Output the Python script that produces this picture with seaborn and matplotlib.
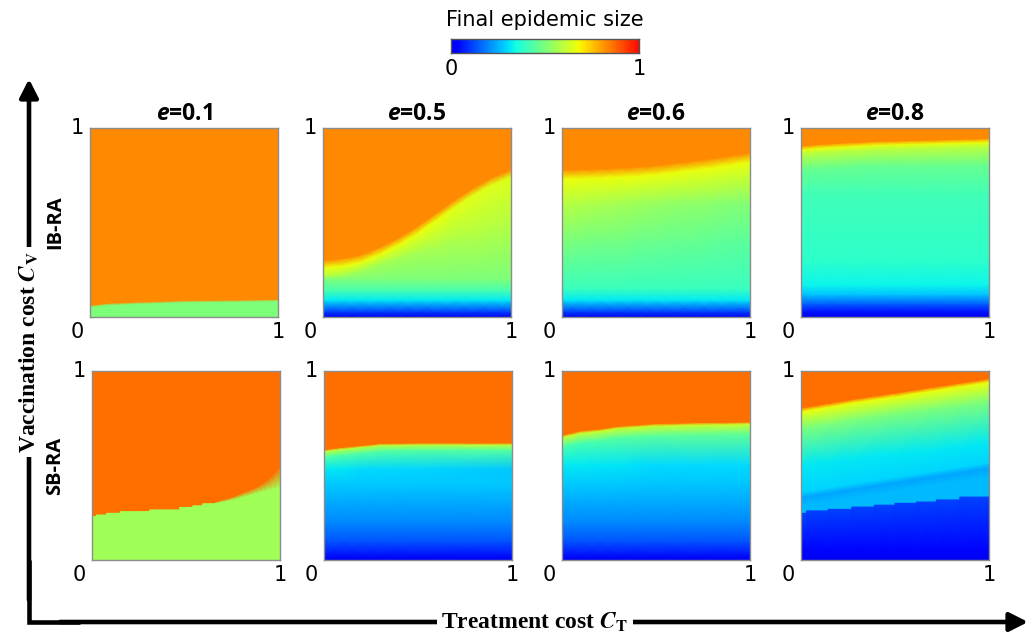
import numpy as np
import matplotlib
matplotlib.use("Agg")
import matplotlib.pyplot as plt
import seaborn as sns
from matplotlib.colors import ListedColormap

# ---------------- data ----------------
E_VALUES = ["0.1", "0.5", "0.6", "0.8"]
ROW_LABELS = ["IB-RA", "SB-RA"]
CBAR_LABELS = ["0", "1"]
CBAR_TITLE = "Final epidemic size"

# IB-RA, e=0.1
XA = [0.0, 0.1, 0.25, 0.5, 1.0]
YA = [[0.0, 0.0, 0.0, 0.0, 0.0],
      [0.053, 0.064, 0.070, 0.078, 0.084],
      [0.063, 0.074, 0.080, 0.088, 0.094],
      [1.0, 1.0, 1.0, 1.0, 1.0]]
VA = [[0.50, 0.50, 0.50, 0.50, 0.50],
      [0.50, 0.50, 0.50, 0.50, 0.50],
      [0.825, 0.825, 0.825, 0.825, 0.825],
      [0.825, 0.825, 0.825, 0.825, 0.825]]

# IB-RA, e=0.5
XB = [0.0, 0.1, 0.2, 0.3, 0.4, 0.5, 0.6, 0.7, 0.8, 0.9, 1.0]
YB = [[0.0, 0.0, 0.0, 0.0, 0.0, 0.0, 0.0, 0.0, 0.0, 0.0, 0.0],
      [0.03, 0.03, 0.03, 0.03, 0.03, 0.03, 0.03, 0.03, 0.03, 0.03, 0.03],
      [0.09, 0.09, 0.09, 0.09, 0.09, 0.09, 0.09, 0.09, 0.09, 0.09, 0.09],
      [0.14, 0.14, 0.14, 0.14, 0.14, 0.14, 0.14, 0.14, 0.14, 0.14, 0.14],
      [0.20, 0.20, 0.20, 0.20, 0.20, 0.20, 0.20, 0.20, 0.20, 0.20, 0.20],
      [0.22, 0.23, 0.25, 0.28, 0.31, 0.34, 0.37, 0.40, 0.43, 0.46, 0.48],
      [0.26, 0.27, 0.29, 0.33, 0.38, 0.44, 0.51, 0.58, 0.645, 0.70, 0.74],
      [0.30, 0.31, 0.33, 0.37, 0.42, 0.48, 0.55, 0.62, 0.685, 0.74, 0.78],
      [1.0, 1.0, 1.0, 1.0, 1.0, 1.0, 1.0, 1.0, 1.0, 1.0, 1.0]]
VB = [[0.0, 0.0, 0.0, 0.0, 0.0, 0.0, 0.0, 0.0, 0.0, 0.0, 0.0],
      [0.12, 0.12, 0.12, 0.12, 0.12, 0.12, 0.12, 0.12, 0.12, 0.12, 0.12],
      [0.32, 0.32, 0.32, 0.32, 0.32, 0.32, 0.32, 0.32, 0.32, 0.32, 0.32],
      [0.42, 0.42, 0.42, 0.42, 0.42, 0.42, 0.42, 0.42, 0.42, 0.42, 0.42],
      [0.50, 0.50, 0.50, 0.50, 0.50, 0.50, 0.50, 0.50, 0.50, 0.50, 0.50],
      [0.60, 0.59, 0.57, 0.56, 0.56, 0.56, 0.57, 0.57, 0.58, 0.58, 0.58],
      [0.667, 0.667, 0.667, 0.667, 0.667, 0.667, 0.665, 0.66, 0.655, 0.65, 0.65],
      [0.825, 0.825, 0.825, 0.825, 0.825, 0.825, 0.825, 0.825, 0.825, 0.825, 0.825],
      [0.825, 0.825, 0.825, 0.825, 0.825, 0.825, 0.825, 0.825, 0.825, 0.825, 0.825]]

# IB-RA, e=0.6
XC = [0.0, 0.1, 0.2, 0.3, 0.4, 0.5, 0.6, 0.7, 0.8, 0.9, 1.0]
YC = [[0.0, 0.0, 0.0, 0.0, 0.0, 0.0, 0.0, 0.0, 0.0, 0.0, 0.0],
      [0.03, 0.03, 0.03, 0.03, 0.03, 0.03, 0.03, 0.03, 0.03, 0.03, 0.03],
      [0.09, 0.09, 0.09, 0.09, 0.09, 0.09, 0.09, 0.09, 0.09, 0.09, 0.09],
      [0.15, 0.15, 0.15, 0.15, 0.15, 0.15, 0.15, 0.15, 0.15, 0.15, 0.15],
      [0.40, 0.40, 0.40, 0.40, 0.40, 0.40, 0.40, 0.40, 0.40, 0.40, 0.40],
      [0.60, 0.60, 0.60, 0.60, 0.60, 0.60, 0.60, 0.60, 0.60, 0.60, 0.60],
      [0.73, 0.732, 0.735, 0.74, 0.745, 0.753, 0.765, 0.777, 0.79, 0.805, 0.82],
      [0.78, 0.782, 0.785, 0.79, 0.795, 0.803, 0.815, 0.827, 0.84, 0.855, 0.87],
      [1.0, 1.0, 1.0, 1.0, 1.0, 1.0, 1.0, 1.0, 1.0, 1.0, 1.0]]
VC = [[0.0, 0.0, 0.0, 0.0, 0.0, 0.0, 0.0, 0.0, 0.0, 0.0, 0.0],
      [0.12, 0.12, 0.12, 0.12, 0.12, 0.12, 0.12, 0.12, 0.12, 0.12, 0.12],
      [0.32, 0.32, 0.32, 0.32, 0.32, 0.32, 0.32, 0.32, 0.32, 0.32, 0.32],
      [0.40, 0.40, 0.40, 0.40, 0.40, 0.40, 0.40, 0.40, 0.40, 0.40, 0.40],
      [0.50, 0.495, 0.49, 0.485, 0.48, 0.475, 0.47, 0.465, 0.46, 0.455, 0.45],
      [0.59, 0.58, 0.57, 0.56, 0.55, 0.54, 0.53, 0.525, 0.52, 0.515, 0.51],
      [0.667, 0.667, 0.667, 0.667, 0.667, 0.667, 0.667, 0.667, 0.667, 0.667, 0.667],
      [0.825, 0.825, 0.825, 0.825, 0.825, 0.825, 0.825, 0.825, 0.825, 0.825, 0.825],
      [0.825, 0.825, 0.825, 0.825, 0.825, 0.825, 0.825, 0.825, 0.825, 0.825, 0.825]]

# IB-RA, e=0.8
XD = [0.0, 0.1, 0.2, 0.4, 0.6, 0.8, 1.0]
YD = [[0.0, 0.0, 0.0, 0.0, 0.0, 0.0, 0.0],
      [0.03, 0.03, 0.03, 0.03, 0.03, 0.03, 0.03],
      [0.07, 0.07, 0.07, 0.07, 0.07, 0.07, 0.07],
      [0.12, 0.12, 0.12, 0.12, 0.12, 0.12, 0.12],
      [0.17, 0.17, 0.17, 0.17, 0.17, 0.17, 0.17],
      [0.30, 0.30, 0.30, 0.30, 0.30, 0.30, 0.30],
      [0.65, 0.65, 0.65, 0.65, 0.65, 0.65, 0.65],
      [0.78, 0.785, 0.79, 0.80, 0.80, 0.80, 0.80],
      [0.865, 0.874, 0.88, 0.89, 0.895, 0.90, 0.905],
      [0.885, 0.894, 0.90, 0.91, 0.915, 0.92, 0.925],
      [0.905, 0.914, 0.92, 0.93, 0.935, 0.94, 0.945],
      [1.0, 1.0, 1.0, 1.0, 1.0, 1.0, 1.0]]
VD = [[0.0, 0.0, 0.0, 0.0, 0.0, 0.0, 0.0],
      [0.06, 0.06, 0.06, 0.06, 0.06, 0.06, 0.06],
      [0.15, 0.15, 0.15, 0.15, 0.15, 0.15, 0.15],
      [0.27, 0.27, 0.27, 0.27, 0.27, 0.27, 0.27],
      [0.33, 0.33, 0.33, 0.33, 0.33, 0.33, 0.33],
      [0.38, 0.38, 0.38, 0.38, 0.38, 0.38, 0.38],
      [0.41, 0.41, 0.41, 0.41, 0.41, 0.41, 0.41],
      [0.47, 0.47, 0.47, 0.47, 0.47, 0.47, 0.47],
      [0.60, 0.60, 0.60, 0.60, 0.60, 0.60, 0.60],
      [0.667, 0.667, 0.667, 0.667, 0.667, 0.667, 0.667],
      [0.825, 0.825, 0.825, 0.825, 0.825, 0.825, 0.825],
      [0.825, 0.825, 0.825, 0.825, 0.825, 0.825, 0.825]]

# SB-RA, e=0.1 : smooth field ...
XE = [0.0, 0.023, 0.079, 0.15, 0.308, 0.467, 0.537, 0.59, 0.643,
      0.7, 0.725, 0.75, 0.775, 0.8, 0.825, 0.85, 0.875, 0.9, 0.925, 0.95, 0.975, 1.0]
YE = [[0.0, 0.0, 0.0, 0.0, 0.0, 0.0, 0.0, 0.0, 0.0,
       0.0, 0.0, 0.0, 0.0, 0.0, 0.0, 0.0, 0.0, 0.0, 0.0, 0.0, 0.0, 0.0],
      [0.225, 0.229, 0.238, 0.247, 0.256, 0.265, 0.278, 0.287, 0.298,
       0.310, 0.315, 0.320, 0.327, 0.335, 0.341, 0.348, 0.355, 0.362, 0.368, 0.374, 0.380, 0.385],
      [0.230, 0.234, 0.243, 0.252, 0.261, 0.270, 0.283, 0.292, 0.304,
       0.320, 0.327, 0.335, 0.345, 0.355, 0.365, 0.375, 0.387, 0.400, 0.418, 0.440, 0.467, 0.500],
      [1.0, 1.0, 1.0, 1.0, 1.0, 1.0, 1.0, 1.0, 1.0,
       1.0, 1.0, 1.0, 1.0, 1.0, 1.0, 1.0, 1.0, 1.0, 1.0, 1.0, 1.0, 1.0]]
VE = [[0.555, 0.555, 0.555, 0.555, 0.555, 0.555, 0.555, 0.555, 0.555,
       0.555, 0.555, 0.555, 0.555, 0.555, 0.555, 0.555, 0.555, 0.555, 0.555, 0.555, 0.555, 0.555],
      [0.555, 0.555, 0.555, 0.555, 0.555, 0.555, 0.555, 0.555, 0.555,
       0.555, 0.555, 0.555, 0.555, 0.555, 0.555, 0.555, 0.555, 0.555, 0.555, 0.555, 0.555, 0.555],
      [0.8625, 0.8625, 0.8625, 0.8625, 0.8625, 0.8625, 0.8625, 0.8625, 0.8625,
       0.8625, 0.8625, 0.8625, 0.8625, 0.8625, 0.8625, 0.8625, 0.8625, 0.8625, 0.8625, 0.8625, 0.8625, 0.8625],
      [0.8625, 0.8625, 0.8625, 0.8625, 0.8625, 0.8625, 0.8625, 0.8625, 0.8625,
       0.8625, 0.8625, 0.8625, 0.8625, 0.8625, 0.8625, 0.8625, 0.8625, 0.8625, 0.8625, 0.8625, 0.8625, 0.8625]]
# ... and the stepped edge of its low region
XE_STEP = [0.0, 0.023, 0.023, 0.079, 0.079, 0.15, 0.15, 0.308, 0.308,
           0.467, 0.467, 0.537, 0.537, 0.59, 0.59, 0.643]
YE_STEP = [[0.0, 0.0, 0.0, 0.0, 0.0, 0.0, 0.0, 0.0, 0.0, 0.0, 0.0, 0.0, 0.0, 0.0, 0.0, 0.0],
           [0.229, 0.229, 0.238, 0.238, 0.247, 0.247, 0.256, 0.256, 0.265,
            0.265, 0.278, 0.278, 0.287, 0.287, 0.298, 0.298]]
VE_STEP = [[0.555, 0.555, 0.555, 0.555, 0.555, 0.555, 0.555, 0.555, 0.555,
            0.555, 0.555, 0.555, 0.555, 0.555, 0.555, 0.555],
           [0.555, 0.555, 0.555, 0.555, 0.555, 0.555, 0.555, 0.555, 0.555,
            0.555, 0.555, 0.555, 0.555, 0.555, 0.555, 0.555]]

# SB-RA, e=0.5
XF = [0.0, 0.1, 0.2, 0.3, 0.5, 1.0]
YF = [[0.0, 0.0, 0.0, 0.0, 0.0, 0.0],
      [0.03, 0.03, 0.03, 0.03, 0.03, 0.03],
      [0.10, 0.10, 0.10, 0.10, 0.10, 0.10],
      [0.20, 0.20, 0.20, 0.20, 0.20, 0.20],
      [0.30, 0.30, 0.30, 0.30, 0.30, 0.30],
      [0.40, 0.40, 0.40, 0.40, 0.40, 0.40],
      [0.48, 0.48, 0.48, 0.48, 0.48, 0.48],
      [0.545, 0.557, 0.567, 0.577, 0.580, 0.580],
      [0.575, 0.587, 0.597, 0.607, 0.610, 0.610],
      [0.585, 0.597, 0.607, 0.617, 0.620, 0.620],
      [1.0, 1.0, 1.0, 1.0, 1.0, 1.0]]
VF = [[0.0, 0.0, 0.0, 0.0, 0.0, 0.0],
      [0.06, 0.06, 0.06, 0.06, 0.06, 0.06],
      [0.14, 0.14, 0.14, 0.14, 0.14, 0.14],
      [0.20, 0.20, 0.20, 0.20, 0.20, 0.20],
      [0.24, 0.24, 0.24, 0.24, 0.24, 0.24],
      [0.28, 0.28, 0.28, 0.28, 0.28, 0.28],
      [0.32, 0.31, 0.30, 0.30, 0.29, 0.28],
      [0.44, 0.44, 0.44, 0.44, 0.44, 0.44],
      [0.60, 0.60, 0.60, 0.60, 0.60, 0.60],
      [0.8625, 0.8625, 0.8625, 0.8625, 0.8625, 0.8625],
      [0.8625, 0.8625, 0.8625, 0.8625, 0.8625, 0.8625]]

# SB-RA, e=0.6
XG = [0.0, 0.1, 0.2, 0.3, 0.5, 0.7, 1.0]
YG = [[0.0, 0.0, 0.0, 0.0, 0.0, 0.0, 0.0],
      [0.03, 0.03, 0.03, 0.03, 0.03, 0.03, 0.03],
      [0.10, 0.10, 0.10, 0.10, 0.10, 0.10, 0.10],
      [0.20, 0.20, 0.20, 0.20, 0.20, 0.20, 0.20],
      [0.30, 0.30, 0.30, 0.30, 0.30, 0.30, 0.30],
      [0.40, 0.40, 0.40, 0.40, 0.40, 0.40, 0.40],
      [0.50, 0.50, 0.50, 0.50, 0.50, 0.50, 0.50],
      [0.597, 0.620, 0.630, 0.645, 0.658, 0.663, 0.667],
      [0.649, 0.672, 0.682, 0.697, 0.710, 0.715, 0.719],
      [0.661, 0.684, 0.694, 0.709, 0.722, 0.727, 0.731],
      [1.0, 1.0, 1.0, 1.0, 1.0, 1.0, 1.0]]
VG = [[0.0, 0.0, 0.0, 0.0, 0.0, 0.0, 0.0],
      [0.06, 0.06, 0.06, 0.06, 0.06, 0.06, 0.06],
      [0.14, 0.14, 0.14, 0.14, 0.14, 0.14, 0.14],
      [0.20, 0.20, 0.20, 0.20, 0.20, 0.20, 0.20],
      [0.24, 0.24, 0.24, 0.24, 0.24, 0.24, 0.24],
      [0.28, 0.28, 0.28, 0.28, 0.27, 0.27, 0.27],
      [0.32, 0.32, 0.31, 0.31, 0.30, 0.30, 0.30],
      [0.42, 0.42, 0.43, 0.44, 0.45, 0.46, 0.46],
      [0.62, 0.62, 0.62, 0.62, 0.62, 0.62, 0.62],
      [0.8625, 0.8625, 0.8625, 0.8625, 0.8625, 0.8625, 0.8625],
      [0.8625, 0.8625, 0.8625, 0.8625, 0.8625, 0.8625, 0.8625]]

# SB-RA, e=0.8 : upper smooth field ...
XH = [0.0, 0.15, 0.3, 0.5, 0.7, 0.85, 1.0]
YH = [[0.0, 0.0, 0.0, 0.0, 0.0, 0.0, 0.0],
      [0.290, 0.313, 0.337, 0.368, 0.399, 0.422, 0.445],
      [0.330, 0.353, 0.377, 0.408, 0.439, 0.462, 0.485],
      [0.360, 0.383, 0.407, 0.438, 0.469, 0.492, 0.515],
      [0.50, 0.52, 0.54, 0.56, 0.58, 0.60, 0.62],
      [0.70, 0.72, 0.745, 0.775, 0.80, 0.82, 0.84],
      [0.785, 0.810, 0.835, 0.864, 0.895, 0.918, 0.940],
      [0.805, 0.830, 0.855, 0.884, 0.915, 0.938, 0.960],
      [1.0, 1.0, 1.0, 1.0, 1.0, 1.0, 1.0]]
VH = [[0.26, 0.26, 0.26, 0.26, 0.26, 0.26, 0.26],
      [0.26, 0.26, 0.26, 0.26, 0.26, 0.26, 0.26],
      [0.235, 0.235, 0.235, 0.235, 0.235, 0.235, 0.235],
      [0.29, 0.29, 0.29, 0.29, 0.29, 0.29, 0.29],
      [0.32, 0.32, 0.32, 0.32, 0.32, 0.32, 0.32],
      [0.50, 0.50, 0.50, 0.50, 0.50, 0.50, 0.50],
      [0.667, 0.667, 0.667, 0.667, 0.667, 0.667, 0.667],
      [0.8625, 0.8625, 0.8625, 0.8625, 0.8625, 0.8625, 0.8625],
      [0.8625, 0.8625, 0.8625, 0.8625, 0.8625, 0.8625, 0.8625]]
# ... and the stepped dark-blue low region
XH_STEP = [0.0, 0.03, 0.03, 0.145, 0.145, 0.27, 0.27, 0.39, 0.39,
           0.5, 0.5, 0.614, 0.614, 0.72, 0.72, 0.845, 0.845, 1.0]
YH_STEP = [[0.0, 0.0, 0.0, 0.0, 0.0, 0.0, 0.0, 0.0, 0.0,
            0.0, 0.0, 0.0, 0.0, 0.0, 0.0, 0.0, 0.0, 0.0],
           [0.06, 0.06, 0.06, 0.06, 0.06, 0.06, 0.06, 0.06, 0.06,
            0.06, 0.06, 0.06, 0.06, 0.06, 0.06, 0.06, 0.06, 0.06],
           [0.247, 0.247, 0.26, 0.26, 0.268, 0.268, 0.28, 0.28, 0.29,
            0.29, 0.30, 0.30, 0.307, 0.307, 0.318, 0.318, 0.333, 0.333]]
VH_STEP = [[0.0, 0.0, 0.0, 0.0, 0.0, 0.0, 0.0, 0.0, 0.0,
            0.0, 0.0, 0.0, 0.0, 0.0, 0.0, 0.0, 0.0, 0.0],
           [0.04, 0.04, 0.04, 0.04, 0.04, 0.04, 0.04, 0.04, 0.04,
            0.04, 0.04, 0.04, 0.04, 0.04, 0.04, 0.04, 0.04, 0.04],
           [0.11, 0.11, 0.11, 0.11, 0.11, 0.11, 0.11, 0.11, 0.11,
            0.11, 0.11, 0.11, 0.11, 0.11, 0.11, 0.11, 0.11, 0.11]]

# each panel: list of layers drawn bottom to top
PANELS = [[(XA, YA, VA)], [(XB, YB, VB)], [(XC, YC, VC)], [(XD, YD, VD)],
          [(XE, YE, VE), (XE_STEP, YE_STEP, VE_STEP)],
          [(XF, YF, VF)], [(XG, YG, VG)],
          [(XH, YH, VH), (XH_STEP, YH_STEP, VH_STEP)]]

# ---------------- style ----------------
sns.set_theme(style="white")
plt.rcParams["font.family"] = ["DejaVu Sans"]
plt.rcParams["text.color"] = "black"
plt.rcParams["xtick.color"] = "black"
plt.rcParams["ytick.color"] = "black"
plt.rcParams["mathtext.fontset"] = "custom"
plt.rcParams["mathtext.it"] = "Open Sans:italic:bold"
plt.rcParams["mathtext.rm"] = "Open Sans:bold"
plt.rcParams["mathtext.bf"] = "Open Sans:bold"

cmap = ListedColormap(plt.cm.jet(np.linspace(0.1, 0.9, 256)))

W, H = 1030, 636
fig = plt.figure(figsize=(W / 100, H / 100), dpi=100)

def fx(px):
    return px / W

def fy(py):
    return 1 - py / H

col_left = [[90, 323, 562, 801], [92, 324, 562, 801]]
row_top = [128, 371]
pw, ph = 188, 189

for i, layers in enumerate(PANELS):
    r, c = divmod(i, 4)
    left = col_left[r][c]
    top = row_top[r]
    ax = fig.add_axes([fx(left), fy(top + ph), pw / W, ph / H])
    for X, Y, V in layers:
        Ya = np.array(Y, dtype=float)
        Xa = np.tile(np.array(X, dtype=float), (Ya.shape[0], 1))
        ax.pcolormesh(Xa, Ya, np.array(V, dtype=float), shading="gouraud",
                      cmap=cmap, vmin=0, vmax=1)
    ax.set_xlim(0, 1)
    ax.set_ylim(0, 1)
    minor = np.arange(1, 10) / 10
    ax.set_xticks(minor)
    ax.set_yticks(minor)
    ax.tick_params(direction="in", length=2.5, width=0.8, color="#555555",
                   bottom=True, left=True, top=False, right=False,
                   labelbottom=False, labelleft=False)
    for s in ax.spines.values():
        s.set_visible(True)
        s.set_color("#8c8c8c")
        s.set_linewidth(1.0)
    tk = dict(transform=ax.transAxes, ha="center", va="center",
              fontsize=15, color="black", family="DejaVu Sans")
    ax.text(-0.068, 1.0, "1", **tk)
    ax.text(-0.068, -0.08, "0", **tk)
    ax.text(1.0, -0.08, "1", **tk)
    if r == 0:
        ax.text(0.5, 1.01, "$e$=" + E_VALUES[c], transform=ax.transAxes,
                ha="center", va="bottom", fontsize=16.5, family="Open Sans",
                fontweight="bold", math_fontfamily="custom", color="black")

# colour bar
cax = fig.add_axes([fx(451), fy(53), 188 / W, 14 / H])
grad = np.linspace(0, 1, 256)[None, :]
sns.heatmap(grad, ax=cax, cmap=cmap, vmin=0, vmax=1, cbar=False,
            xticklabels=False, yticklabels=False)
cax.set_xticks([0, 256])
cax.set_xticklabels(CBAR_LABELS, fontsize=15, family="DejaVu Sans", color="black")
cax.tick_params(axis="x", length=0, pad=4, bottom=True)
cax.set_yticks([])
for s in cax.spines.values():
    s.set_visible(True)
    s.set_color("#555555")
    s.set_linewidth(1.0)
cax.set_title(CBAR_TITLE, fontsize=15, family="DejaVu Sans", pad=9, color="black")

# overlay with the big axis arrows
ov = fig.add_axes([0, 0, 1, 1])
ov.set_xlim(0, W)
ov.set_ylim(H, 0)
ov.axis("off")
ov.patch.set_visible(False)
ov.plot([29, 29, 80], [560, 622, 622], color="black", lw=3.3,
        solid_joinstyle="miter", solid_capstyle="butt")
arr = dict(arrowstyle="-|>,head_length=0.55,head_width=0.28", lw=3.3,
           color="black", mutation_scale=20, shrinkA=0, shrinkB=0)
ov.annotate("", xy=(29, 79), xytext=(29, 600), arrowprops=arr)
ov.annotate("", xy=(1028, 622), xytext=(60, 622), arrowprops=arr)

lab = dict(family="Liberation Serif", fontweight="bold", fontsize=17,
           ha="center", va="center", math_fontfamily="stix", color="black",
           bbox=dict(fc="white", ec="none", pad=3))
ov.text(29, 352, r"Vaccination cost $\mathbfit{C}_{\mathbf{V}}$", rotation=90, **lab)
ov.text(535, 622, r"Treatment cost $\mathbfit{C}_{\mathbf{T}}$", **lab)

for r, name in enumerate(ROW_LABELS):
    ov.text(55, row_top[r] + ph / 2, name, rotation=90, family="Open Sans",
            fontweight="bold", fontsize=14.5, ha="center", va="center",
            color="black")

fig.savefig("out.png", dpi=100)
